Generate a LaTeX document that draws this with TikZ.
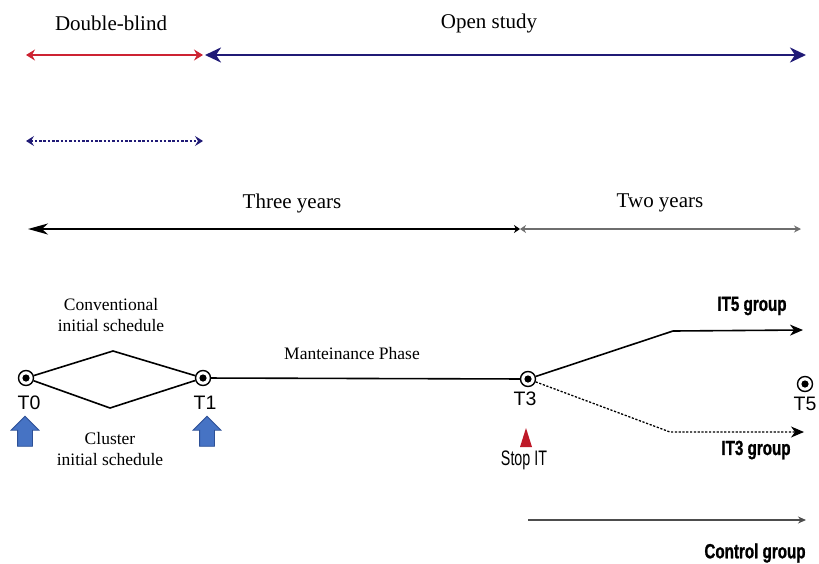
\documentclass[tikz,border=0pt]{standalone}
\usepackage{fontspec}
\setmainfont{Liberation Serif}
\setsansfont{Liberation Sans}
\newfontfamily\groupfont[FakeStretch=0.74,FakeBold=1]{Liberation Sans Bold}
\newfontfamily\stopfont[FakeStretch=0.68]{Liberation Sans}
\usetikzlibrary{arrows.meta, shapes.arrows}

\definecolor{blindred}{RGB}{205,35,50}
\definecolor{opennavy}{RGB}{32,26,118}
\definecolor{markblue}{RGB}{70,115,196}
\definecolor{markedge}{RGB}{45,80,150}
\definecolor{stopred}{RGB}{190,25,40}
\definecolor{twogrey}{RGB}{110,110,110}

\begin{document}
\begin{tikzpicture}[x=1pt,y=-1pt,line width=1.6pt,
  time node/.style={circle,draw,line width=1.4pt,inner sep=0pt,minimum size=15pt,
    path picture={\fill (path picture bounding box.center) circle (3.6pt);}},
  time label/.style={font=\sffamily\fontsize{19.5}{20}\selectfont},
  period text/.style={font=\fontsize{21}{22}\selectfont},
  phase text/.style={font=\fontsize{17.5}{21}\selectfont,align=center},
  group text/.style={font=\groupfont\fontsize{20.5}{22}\selectfont},
  up mark/.style={single arrow,shape border rotate=90,fill=markblue,draw=markedge,
    line width=0.8pt,inner sep=7pt,minimum height=30pt,
    single arrow head extend=6.5pt,single arrow head indent=0pt}]
  \useasboundingbox (0,0) rectangle (819,563);

  % study blinding
  \node[period text] (blind) at (111,23) {Double-blind};
  \node[period text] (open) at (489,23) {Open study};
  \coordinate (blind l) at (26,55);
  \coordinate (blind r) at (203,55);
  \coordinate (open r) at (806,55);
  \coordinate (dot l) at (26,141);
  \coordinate (dot r) at (203,141);
  \path[blindred,line width=1.8pt,{Stealth[length=9pt,width=11pt,inset=3pt]}-{Stealth[length=9pt,width=11pt,inset=3pt]}]
    (blind l) edge (blind r);
  \draw[opennavy,line width=2.6pt,{Stealth[length=16pt,width=15pt,inset=5pt]}-{Stealth[length=16pt,width=15pt,inset=5pt]}]
    ([xshift=2pt]blind r) -- (open r);
  \draw[opennavy,line width=1.3pt,dash pattern=on 2.5pt off 1.8pt,
    {Stealth[length=8pt,width=10pt,inset=3pt]}-{Stealth[length=8pt,width=10pt,inset=3pt]}]
    (dot l) -- (dot r);

  % years
  \node[period text] (three) at (292,203) {Three years};
  \node[period text] (two) at (660,203) {Two years};
  \coordinate (yr l) at (28,229);
  \coordinate (yr m) at (520,229);
  \coordinate (yr r) at (801,229);
  \draw[line width=1.8pt,{Stealth[length=20pt,width=11pt,inset=6pt]}-{Stealth[length=6pt,width=8pt]}]
    (yr l) -- (yr m);
  \draw[twogrey,line width=1.3pt,{Stealth[length=6pt,width=8pt]}-{Stealth[length=7pt,width=7pt]}]
    (yr m) -- (yr r);

  % time points
  \node[time node] (t0) at (26,378) {};
  \node[time node] (t1) at (203,378) {};
  \node[time node] (t3) at (528,379) {};
  \node[time node] (t5) at (805,384) {};
  \node[time label] (t0 lab) at (29,403) {T0};
  \node[time label] (t1 lab) at (205,403) {T1};
  \node[time label] (t3 lab) at (525,399) {T3};
  \node[time label] (t5 lab) at (805,404) {T5};
  \node[up mark] (t0 mark) at (25,435) {};
  \node[up mark] (t1 mark) at (207,435) {};
  \fill[stopred] (520,447) -- (526,428) -- (532,447) -- cycle;
  \node[font=\stopfont\fontsize{21}{22}\selectfont] (stop) at (524,460) {Stop IT};

  % initial schedules
  \coordinate (conv) at (113,351);
  \coordinate (clus) at (110,408);
  \node[phase text] (conv lab) at (111,315) {Conventional\\initial schedule};
  \node[phase text] (clus lab) at (110,449) {Cluster\\initial schedule};
  \path (t0) edge (conv) (conv) edge (t1)
        (t0) edge (clus) (clus) edge (t1)
        (t1) edge (t3);
  \node[phase text] (maint) at (352,354) {Manteinance Phase};

  % groups
  \coordinate (it5 bend) at (673,331);
  \coordinate (it5 end) at (803,330);
  \coordinate (it3 bend) at (670,432);
  \coordinate (it3 end) at (804,432);
  \coordinate (ctrl l) at (528,520);
  \coordinate (ctrl r) at (806,520);
  \draw[-{Stealth[length=13pt,width=11pt,inset=4pt]}] (t3) -- (it5 bend) -- (it5 end);
  \draw[line width=1.3pt,dash pattern=on 2.2pt off 1.6pt,-{Stealth[length=13pt,width=11pt,inset=4pt]}]
    (t3) -- (it3 bend) -- (it3 end);
  \draw[twogrey!70!black,line width=1.3pt,-{Stealth[length=8pt,width=7pt]}] (ctrl l) -- (ctrl r);
  \node[group text] (it5) at (752,306) {IT5 group};
  \node[group text] (it3) at (756,450) {IT3 group};
  \node[group text] (ctrl) at (755,553) {Control group};
\end{tikzpicture}
\end{document}
